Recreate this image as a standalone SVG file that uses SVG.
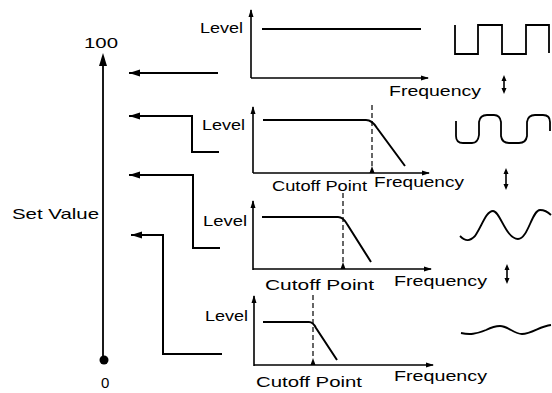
<svg xmlns="http://www.w3.org/2000/svg" width="552" height="393" viewBox="0 0 552 393">
<style>
text{font-family:"Liberation Sans",Arial,sans-serif;fill:#000;font-size:15px}
.ln{fill:none;stroke:#000;stroke-width:2}
.ax{fill:none;stroke:#000;stroke-width:1.6}
.cv{fill:none;stroke:#000;stroke-width:2}
.ds{fill:none;stroke:#000;stroke-width:1.2;stroke-dasharray:5,3}
.wv{fill:none;stroke:#000;stroke-width:1.8}
</style>
<defs>
<marker id="big" markerWidth="12" markerHeight="8" refX="11" refY="4" orient="auto" markerUnits="userSpaceOnUse">
<path d="M0,0.5 L11,4 L0,7.5 Z" fill="#000"/>
</marker>
<marker id="sm" markerWidth="8" markerHeight="6" refX="7" refY="3" orient="auto" markerUnits="userSpaceOnUse">
<path d="M0,0.5 L8,3 L0,5.5 Z" fill="#000"/>
</marker>
<marker id="tk" markerWidth="6" markerHeight="6" refX="0" refY="3" orient="auto" markerUnits="userSpaceOnUse">
<path d="M6,0.5 L0,3 L6,5.5 Z" fill="#000"/>
</marker>
</defs>

<g id="scale">
<line x1="103" y1="360" x2="103" y2="62" class="ln" style="stroke-width:1.8"/>
<path d="M103,53 L99,66 L107,66 Z" fill="#000"/>
<circle cx="104" cy="360" r="4.5" fill="#000"/>
<text x="84" y="48" textLength="34" lengthAdjust="spacingAndGlyphs">100</text>
<text x="101" y="388">0</text>
<text x="12" y="219" textLength="87" lengthAdjust="spacingAndGlyphs">Set Value</text>
</g>

<g id="connectors">
<path d="M218,73 H129" class="ln" marker-end="url(#big)"/>
<path d="M219,152 H192 V116 H129" class="ln" marker-end="url(#big)"/>
<path d="M220,248 H193 V175 H129" class="ln" marker-end="url(#big)"/>
<path d="M222,354 H163 V235 H131" class="ln" marker-end="url(#big)"/>
</g>

<g id="graph1">
<path d="M251,78 V10" class="ax" marker-end="url(#sm)"/>
<path d="M251,78 H428" class="ax" marker-end="url(#sm)"/>
<path d="M262,29 H421" class="cv"/>
<text x="200" y="33" textLength="43" lengthAdjust="spacingAndGlyphs">Level</text>
<text x="389" y="96" textLength="92" lengthAdjust="spacingAndGlyphs">Frequency</text>
</g>

<g id="graph2">
<path d="M253,173 V107" class="ax" marker-end="url(#sm)"/>
<path d="M253,173 H429" class="ax" marker-end="url(#sm)"/>
<path d="M263,120 H366 Q372,120 377,128 L405,166" class="cv"/>
<path d="M372,105 V167" class="ds" marker-start="url(#tk)" style="marker-start:none"/>
<path d="M372,166 L369.5,173 L374.5,173 Z" fill="#000"/>
<text x="202" y="130" textLength="43" lengthAdjust="spacingAndGlyphs">Level</text>
<text x="272" y="191" textLength="95" lengthAdjust="spacingAndGlyphs">Cutoff Point</text>
<text x="374" y="187" textLength="90" lengthAdjust="spacingAndGlyphs">Frequency</text>
</g>

<g id="graph3">
<path d="M253,270 V201" class="ax" marker-end="url(#sm)"/>
<path d="M253,269 H431" class="ax" marker-end="url(#sm)"/>
<path d="M262,217 H338 Q343,217 347,224 L371,262" class="cv"/>
<path d="M343,193 V263" class="ds"/>
<path d="M343,262 L340.5,269 L345.5,269 Z" fill="#000"/>
<text x="203" y="226" textLength="44" lengthAdjust="spacingAndGlyphs">Level</text>
<text x="265" y="290" textLength="109" lengthAdjust="spacingAndGlyphs">Cutoff Point</text>
<text x="394" y="286" textLength="93" lengthAdjust="spacingAndGlyphs">Frequency</text>
</g>

<g id="graph4">
<path d="M254,366 V296" class="ax" marker-end="url(#sm)"/>
<path d="M254,365 H433" class="ax" marker-end="url(#sm)"/>
<path d="M263,322 H309 Q313,322 316,328 L337,360" class="cv"/>
<path d="M313,295 V359" class="ds"/>
<path d="M313,358 L310.5,365 L315.5,365 Z" fill="#000"/>
<text x="205" y="321" textLength="43" lengthAdjust="spacingAndGlyphs">Level</text>
<text x="256" y="387" textLength="106" lengthAdjust="spacingAndGlyphs">Cutoff Point</text>
<text x="394" y="381" textLength="93" lengthAdjust="spacingAndGlyphs">Frequency</text>
</g>

<g id="waveforms">
<path d="M455,25 V54 H478 V25 H502 V54 H526 V25 H549 V53" class="wv"/>
<path d="M456,121 V136 Q456,143 463,143 H472 Q478,143 479,135 V122 Q480,115 487,115 H494 Q500,115 501,122 V136 Q502,143 509,143 H519 Q526,143 527,136 V122 Q528,115 535,115 H543 Q550,115 550,122 V131" class="wv"/>
<path d="M460,236 C466,242 470,241 475,236 C482,226 486,211 493,211 C500,211 506,239 518,239 C528,239 532,210 540,210 C545,210 548,212 551,215" class="wv"/>
<path d="M461,333 C470,335 476,334 486,330 C492,327 496,326 500,326 C508,326 514,334 522,334 C532,334 540,326 551,325" class="wv"/>
</g>

<g id="dirarrows">
<path d="M504,80 V89" class="ax"/>
<path d="M504,75 L501.5,81 L506.5,81 Z M504,94 L501.5,88 L506.5,88 Z" fill="#000"/>
<path d="M506,173 V185" class="ax"/>
<path d="M506,168 L503.5,174 L508.5,174 Z M506,190 L503.5,184 L508.5,184 Z" fill="#000"/>
<path d="M507,269 V279" class="ax"/>
<path d="M507,264 L504.5,270 L509.5,270 Z M507,284 L504.5,278 L509.5,278 Z" fill="#000"/>
</g>
</svg>
